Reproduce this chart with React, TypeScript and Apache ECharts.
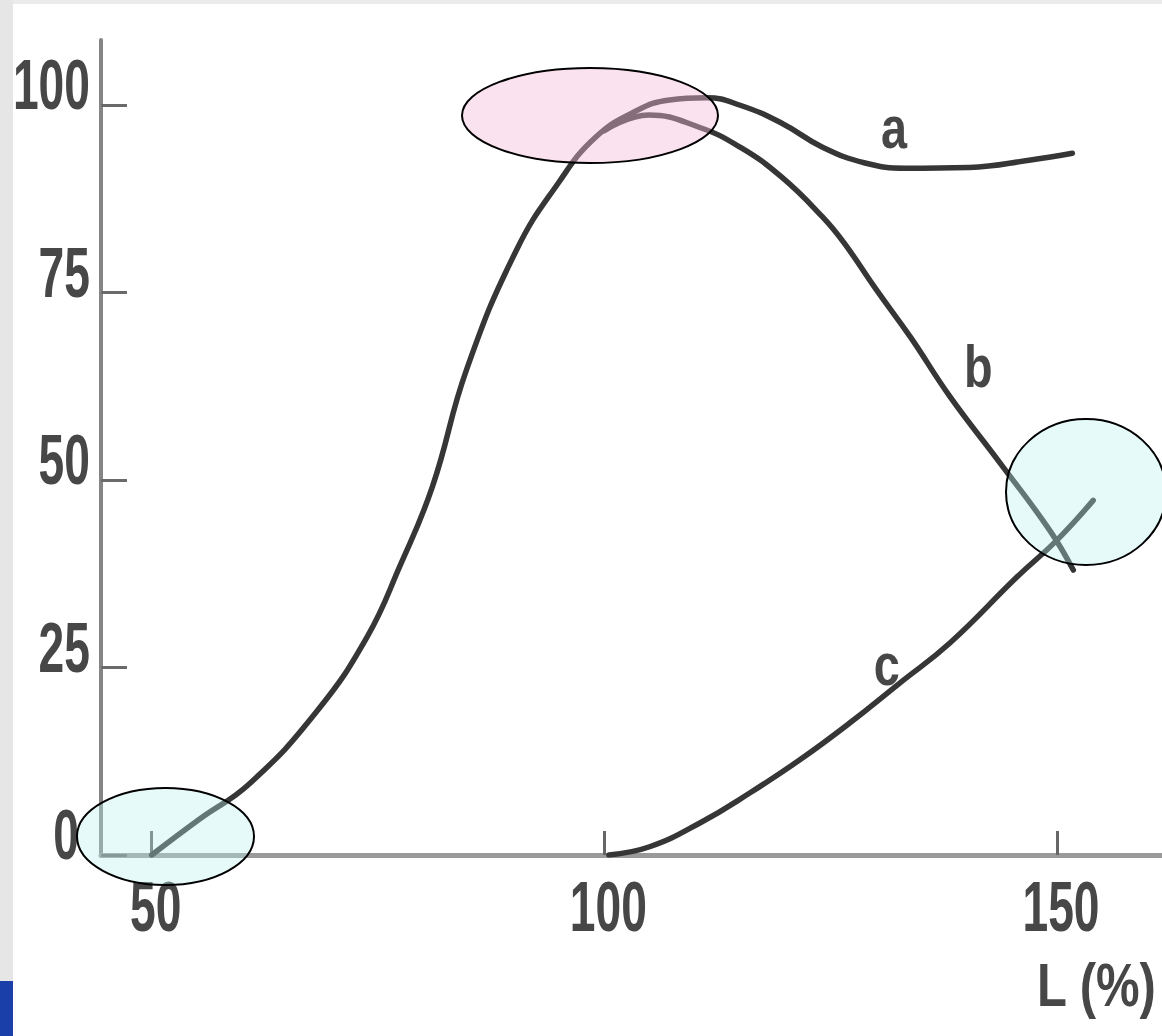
import React, { useEffect, useRef } from "react";
import * as echarts from "echarts";

// Length (% of optimum) vs tension (%)
const curveA: [number, number][] = [
  [50, 0], [55.3, 4.8], [60.8, 9.5], [68.2, 19.1], [73.8, 29.1], [77.4, 38.5],
  [81.0, 49.1], [84.8, 64.8], [90.3, 80.7], [94.9, 89.6], [99.0, 95.7],
  [103.6, 99.3], [107.2, 100.7], [111.3, 101], [115, 100], [119.6, 97.6],
  [124.1, 94.4], [128.8, 92.3], [133.3, 91.6], [140.3, 91.7], [147.1, 92.7],
  [151.7, 93.6],
];
const curveB: [number, number][] = [
  [100, 96.6], [104.9, 98.7], [110.4, 97.1], [115, 94.4], [119.6, 90.4],
  [124.1, 85.1], [126.5, 81.6], [130.1, 75.3], [133.8, 69.1], [138.2, 61.1],
  [143.7, 52.3], [149.2, 43.3], [151.8, 38],
];
const curveC: [number, number][] = [
  [100.5, 0], [105, 1.1], [110.6, 4.3], [116.1, 8.3], [121.6, 12.7],
  [127.1, 17.6], [132.6, 22.9], [138.2, 28.3], [145.6, 37.1], [150, 42],
  [154, 47.3],
];
const curveLabels: [number, number, string][] = [
  [132.0, 97.1, "a"],
  [141.3, 65.3, "b"],
  [131.2, 25.5, "c"],
];
const xTicks = [50, 100, 150];
const yTicks = [0, 25, 50, 75, 100];
const xName = "L (%)";

const FONT = '"Liberation Sans", Arial, sans-serif';
const LINE = "#363636";
const TEXT = "#474747";
const X_MIN = 44.4;
const X_MAX = 161.6;
const Y_MIN = 0;
const Y_MAX = 108.7;

export default function App() {
  const ref = useRef<HTMLDivElement>(null);
  useEffect(() => {
    if (!ref.current) return;
    const chart = echarts.init(ref.current, null, { renderer: "svg" });
    const lineSeries = (name: string, data: [number, number][]) => ({
      name,
      type: "line",
      data,
      smooth: 0.45,
      showSymbol: false,
      symbol: "none",
      lineStyle: { color: LINE, width: 5.5, cap: "round", join: "round" },
      z: 3,
    });
    chart.setOption({
      animation: false,
      backgroundColor: "#ffffff",
      grid: {
        left: 101,
        right: 0,
        top: 40,
        bottom: 181,
        containLabel: false,
        outerBoundsMode: "none",
      },
      xAxis: {
        type: "value",
        min: X_MIN,
        max: X_MAX,
        splitLine: { show: false },
        axisLine: { show: true, onZero: true, lineStyle: { color: "#9a9a9a", width: 5 } },
        axisTick: {
          show: true,
          inside: true,
          length: 24,
          customValues: xTicks,
          lineStyle: { color: "#666", width: 3 },
        },
        axisLabel: { show: false },
      },
      yAxis: {
        type: "value",
        min: Y_MIN,
        max: Y_MAX,
        splitLine: { show: false },
        axisLine: { show: true, lineStyle: { color: "#858585", width: 4 } },
        axisTick: {
          show: true,
          inside: true,
          length: 26,
          customValues: yTicks,
          lineStyle: { color: "#6a6a6a", width: 3 },
        },
        axisLabel: { show: false },
      },
      series: [
        lineSeries("a", curveA),
        lineSeries("b", curveB),
        lineSeries("c", curveC),
      ],
    });

    const xPx = (v: number) => chart.convertToPixel({ xAxisIndex: 0 }, v) as number;
    const yPx = (v: number) => chart.convertToPixel({ yAxisIndex: 0 }, v) as number;
    const axisX = xPx(X_MIN);
    const axisY = yPx(0);

    const txt = (
      id: string,
      text: string,
      x: number,
      y: number,
      align: string,
      size: number,
      sx: number
    ) => ({
      type: "text",
      id,
      x,
      y,
      scaleX: sx,
      z: 10,
      style: {
        text,
        x: 0,
        y: 0,
        align,
        verticalAlign: "middle",
        fontFamily: FONT,
        fontWeight: "bold",
        fontSize: size,
        fill: TEXT,
      },
    });

    const graphics: any[] = [];
    yTicks.forEach((v) => {
      graphics.push(
        txt("y" + v, String(v), axisX - (v === 0 ? 22 : 11), yPx(v) - 20, "right", 70, 0.66)
      );
    });
    xTicks.forEach((v) => {
      graphics.push(txt("x" + v, String(v), xPx(v) + 4, axisY + 52, "center", 70, 0.66));
    });
    curveLabels.forEach(([x, y, t]) => {
      graphics.push(txt("lab" + t, t, xPx(x), yPx(y), "center", 60, 0.78));
    });
    graphics.push(txt("xname", xName, 1037, 984, "left", 62, 0.79));
    graphics.push(
      {
        type: "ellipse",
        id: "e1",
        shape: { cx: 590, cy: 115.5, rx: 128, ry: 47.5 },
        style: { fill: "rgba(245,185,218,0.42)", stroke: "#000", lineWidth: 2 },
        z: 100,
      },
      {
        type: "ellipse",
        id: "e2",
        shape: { cx: 165.5, cy: 836.5, rx: 88.5, ry: 48.5 },
        style: { fill: "rgba(185,240,240,0.35)", stroke: "#000", lineWidth: 2 },
        z: 100,
      },
      {
        type: "ellipse",
        id: "e3",
        shape: { cx: 1086, cy: 492, rx: 80, ry: 73 },
        style: { fill: "rgba(185,240,240,0.35)", stroke: "#000", lineWidth: 2 },
        z: 100,
      }
    );
    chart.setOption({ graphic: graphics });
    return () => chart.dispose();
  }, []);
  return (
    <div style={{ position: "absolute", left: 0, top: 0, width: 1162, height: 1036, overflow: "hidden", background: "#fff" }}>
      <div ref={ref} style={{ position: "absolute", left: 0, top: 0, width: 1162, height: 1036 }} />
      <div style={{ position: "absolute", left: 0, top: 0, width: 1162, height: 4, background: "#ebebeb" }} />
      <div style={{ position: "absolute", left: 0, top: 0, width: 13, height: 981, background: "#e6e6e6" }} />
      <div style={{ position: "absolute", left: 0, top: 981, width: 13, height: 55, background: "#1b3fa8" }} />
    </div>
  );
}
